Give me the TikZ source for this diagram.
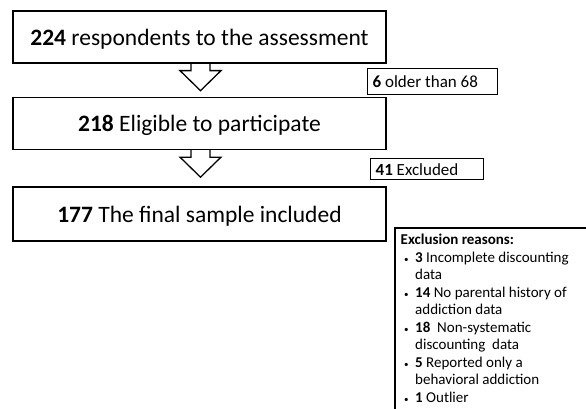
\documentclass[tikz,border=0pt]{standalone}
\usepackage{fontspec}
\setmainfont{Carlito}
\usetikzlibrary{calc}
\begin{document}
\begin{tikzpicture}[x=1pt,y=-1pt,
  bigbox/.style={draw=black,line width=1.3pt,minimum width=373pt,minimum height=52pt,inner sep=0pt,text depth=0pt,font=\fontsize{23.5}{28}\selectfont},
  smallbox/.style={draw=black,line width=1.3pt,inner xsep=5pt,inner ysep=0pt,anchor=north west,font=\fontsize{17}{20}\selectfont,text depth=0pt},
  blockarrow/.style={draw=black,line width=1.3pt,line join=miter}]
\useasboundingbox (0,0) rectangle (586,409);
\clip (0,0) rectangle (586,409);
\node[bigbox] (box1) at (199.5,37) {\textbf{224} respondents to the assessment};
\node[bigbox] (box2) at (199.5,123.5) {\textbf{218} Eligible to participate};
\node[bigbox,minimum height=54pt] (box3) at (199.5,214) {\textbf{177} The final sample included};
\node[smallbox,minimum height=26pt] (older) at (367,68) {\makebox[120pt][l]{\textbf{6} older than 68}};
\node[smallbox,minimum height=21pt] (excl) at (370,158) {\makebox[103pt][l]{\textbf{41} Excluded}};
\draw[blockarrow] ($(box1.south)+(-8.5,0)$) -- ++(0,7) -- ++(-11,0) -- ++(20.5,20) -- ++(20.5,-20) -- ++(-11,0) -- ++(0,-7);
\draw[blockarrow] ($(box2.south)+(-8.5,0)$) -- ++(0,7) -- ++(-11,0) -- ++(20.5,20) -- ++(20.5,-20) -- ++(-11,0) -- ++(0,-7);
\node[anchor=north west,inner xsep=5.5pt,inner ysep=6pt,align=left,
  font=\fontsize{15}{17.5}\selectfont] (reasons) at (395,228) {%
\textbf{Exclusion reasons:}\\
\hspace*{3.5pt}\makebox[11pt][l]{\small•}\textbf{3} Incomplete discounting\\
\hspace*{14.5pt}data\\
\hspace*{3.5pt}\makebox[11pt][l]{\small•}\textbf{14} No parental history of\\
\hspace*{14.5pt}addiction data\\
\hspace*{3.5pt}\makebox[11pt][l]{\small•}\textbf{18}\ \ Non-systematic\\
\hspace*{14.5pt}discounting\ \ data\\
\hspace*{3.5pt}\makebox[11pt][l]{\small•}\textbf{5} Reported only a\\
\hspace*{14.5pt}behavioral addiction\\
\hspace*{3.5pt}\makebox[11pt][l]{\small•}\textbf{1} Outlier};
\draw[black,line width=1.3pt] (reasons.north west) rectangle (620,430);
\end{tikzpicture}
\end{document}
